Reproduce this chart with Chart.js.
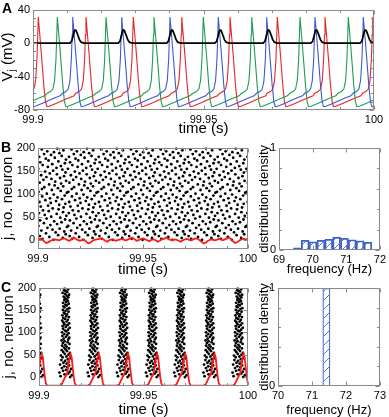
<!DOCTYPE html>
<html>
<head>
<meta charset="utf-8">
<script src="https://cdn.jsdelivr.net/npm/chart.js@4.4.1/dist/chart.umd.min.js"></script>
<style>
  html, body { margin: 0; padding: 0; background: #fff; }
  #fig { position: relative; width: 389px; height: 417px; overflow: hidden; }
  #fig canvas { position: absolute; }
</style>
</head>
<body>
<div id="fig">
  <canvas id="cA" width="389" height="138" style="left:0;top:0"></canvas>
  <canvas id="cB" width="262" height="139" style="left:0;top:138px"></canvas>
  <canvas id="hB" width="133" height="139" style="left:256px;top:138px"></canvas>
  <canvas id="cC" width="262" height="139" style="left:0;top:278px"></canvas>
  <canvas id="hC" width="133" height="139" style="left:256px;top:278px"></canvas>
</div>
<script>
// all times are ms after 99.9 s

// A: spike peaks of the three plotted neurons, and bumps of the black trace
const redSpikes = [-12.44, 1.55, 15.54, 29.41, 43.61, 57.77, 71.64, 85.63, 99.62];
const greenSpikes = [-7.07, 7.13, 21.41, 35.48, 49.94, 64.13, 78.3, 92.46];
const blueSpikes = [-2.55, 11.64, 26.01, 40.18, 54.34, 68.53, 82.7, 96.86];
const blackBumps = [12.32, 26.48, 40.67, 54.84, 69.0, 83.0, 97.4];
// waveforms: [ms from peak, mV]
const spikeShape = [[-3, -60], [-2, -58], [-1.3, -55], [-0.8, -45], [-0.4, -20], [-0.15, 10],
  [0, 31], [0.4, 12], [1.0, -18], [1.6, -50], [2.1, -70], [2.5, -76], [3.2, -75.5],
  [5, -72.5], [7, -69], [9, -65.5], [10.5, -63]];
const bumpShape = [[-1.5, 0], [-1, 2], [-0.6, 8], [-0.2, 14.5], [0, 15.5], [0.3, 15],
  [0.8, 10], [1.3, 4], [1.8, 1], [2.6, 0]];

// B: first spike of neuron j = 0,2,4,... and firing period
const periodB = 14.16;
const phaseB = [
  7.3, 2.1, 11.8, 5.4, 0.9, 9.6, 13.2, 3.8,
  8.4, 12.5, 1.6, 6.9, 10.3, 4.5, 13.8, 0.2,
  5.9, 9.1, 2.8, 11.2, 7.7, 1.0, 12.9, 4.1,
  10.6, 6.3, 13.5, 3.2, 8.9, 0.5, 11.9, 5.1,
  2.4, 9.8, 7.0, 12.2, 1.3, 4.8, 10.1, 13.0,
  6.1, 0.7, 8.6, 3.5, 11.4, 5.7, 9.3, 2.0,
  12.7, 7.5, 4.2, 13.7, 0.3, 10.8, 6.6, 1.9,
  9.5, 3.0, 12.0, 7.9, 5.3, 11.0, 0.8, 8.2,
  13.4, 2.6, 6.4, 10.5, 4.0, 12.4, 1.5, 9.0,
  5.6, 13.1, 3.4, 7.2, 11.6, 0.1, 8.8, 4.7,
  10.9, 2.2, 6.8, 12.8, 1.1, 9.7, 5.0, 13.3,
  3.7, 8.0, 0.6, 11.3, 6.2, 2.9, 10.2, 7.6,
  4.4, 12.1, 1.8, 9.2];
// B: population activity (red), one value per ms
const popB = [
  1, 2, 1, -4, -7, -5, -2, 0, 1, 0,
  -1, 1, 3, 2, -1, -2, 1, 5, 2, -1,
  -2, -1, 0, -4, -8, -6, -2, 0, 1, 2,
  3, 1, -2, -4, -1, 1, 0, -2, -1, 1,
  2, 0, -1, 1, 3, 5, 1, -2, -1, 2,
  3, 1, -1, -3, 0, 1, -1, -4, -2, 1,
  2, 5, 2, 0, -1, 1, 0, -2, -4, -1,
  1, 2, 0, -1, 1, 3, 2, -1, -5, -8,
  -6, -2, 0, 1, -1, 0, 2, 1, -1, 1,
  3, 5, 1, -4, -7, -5, -1, 1, 2, 1,
  2];

// C: peaks of population activity, spike lag of neuron j = 0,2,4,... to the peak
const burstPeaksC = [1.3, 15.1, 28.6, 42.6, 56.5, 70.0, 84.0, 97.9];
const lagC = [
  -0.2, -4.8, 0.6, -2.9, -1.1, -5.3, -0.4, -3.6,
  -2.2, 0.2, -4.1, -1.5, -3.0, -0.7, -5.0, -1.9,
  -3.4, -0.9, -2.6, -4.4, -1.3, 0.1, -3.8, -2.0,
  -4.6, -1.0, -2.8, -0.3, -3.5, -1.7, -4.2, -2.4,
  -0.8, -3.1, -1.9, -4.0, -2.5, -0.5, -3.7, -1.4,
  -2.9, -4.3, -1.1, -3.3, -0.6, -2.2, -3.9, -1.6,
  -3.0, -0.9, -4.1, -2.0, -2.7, -1.2, -3.6, -0.4,
  -2.3, -3.8, -1.5, -2.9, -0.7, -3.4, -1.9, -4.0,
  -1.3, -2.6, -3.5, -0.8, -2.1, -3.9, -1.7, -2.8,
  -3.2, -1.0, -2.4, -3.7, -1.5, -0.6, -2.9, -3.4,
  -1.8, -2.5, -0.9, -3.6, -2.2, -1.3, -3.0, -2.0,
  -2.7, -1.1, -3.3, -1.9, -0.7, -2.6, -3.8, -1.6,
  -2.3, -3.1, -1.2, -2.8];
const popShapeC = [[-5.2, -19], [-4.2, -16], [-3.4, -8], [-2.6, 0], [-2.0, 4], [-1.5, 12],
  [-1.0, 28], [-0.5, 45], [0, 52], [0.5, 45], [1.0, 22], [1.5, 0], [2.0, -14], [2.6, -19]];

// frequency histograms
const binCentersB = [69.547, 69.78, 70.013, 70.246, 70.479, 70.712, 70.945, 71.178, 71.411, 71.644];
const densityB = [0.02, 0.095, 0.08, 0.095, 0.105, 0.125, 0.115, 0.1, 0.09, 0.075];
const binCentersC = [71.425];
const densityC = [1];

// ticks
const timeTicks = [99.9, 99.95, 100];
const timeMinor = [99.91, 99.92, 99.93, 99.94, 99.96, 99.97, 99.98, 99.99];
const vTicks = [-80, -40, 0, 40];
const vMinor = [-70, -60, -50, -30, -20, -10, 10, 20, 30];
const jTicks = [0, 50, 100, 150, 200];
const freqTicksB = [69, 70, 71, 72];
const freqTicksC = [70, 71, 72, 73];
const densTicks = [0, 1];
const densMinor = [0.2, 0.4, 0.6, 0.8];

const FONT = '"Liberation Sans", Arial, Helvetica, sans-serif';
Chart.defaults.font.family = FONT;
Chart.defaults.color = '#000';

const RED = '#e8232a', GREEN = '#1f9c4f', BLUE = '#3b5bcc', HBLUE = '#3f60c8';

function trace(peaks, shape) {
  const pts = [];
  peaks.forEach(p => shape.forEach(([dt, v]) => pts.push({ x: 99.9 + (p + dt) / 1000, y: v })));
  return pts.sort((a, b) => a.x - b.x);
}

const blackTrace = trace(blackBumps, bumpShape).concat([{ x: 99.9, y: 0 }, { x: 100, y: 0 }]).sort((a, b) => a.x - b.x);

const rasterB = [];
phaseB.forEach((ph, i) => {
  for (let t = ph; t <= 100; t += periodB) rasterB.push({ x: 99.9 + t / 1000, y: 2 * i });
});
const rasterC = [];
lagC.forEach((lag, i) => burstPeaksC.forEach(p => {
  const t = p + lag;
  if (t >= 0 && t <= 100) rasterC.push({ x: 99.9 + t / 1000, y: 2 * i });
}));

function hatch(color) {
  const c = document.createElement('canvas');
  c.width = c.height = 9;
  const g = c.getContext('2d');
  g.strokeStyle = color;
  g.lineWidth = 1;
  g.beginPath();
  g.moveTo(0, 9); g.lineTo(9, 0);
  g.moveTo(-1, 1); g.lineTo(1, -1);
  g.moveTo(8, 10); g.lineTo(10, 8);
  g.stroke();
  return g.createPattern(c, 'repeat');
}

function axis(min, max, major, size, title, tsize, tpad) {
  return {
    type: 'linear', min, max, offset: false,
    grid: { display: false, drawTicks: false },
    border: { display: false },
    ticks: { font: { size: 11 }, padding: 3, color: '#000', autoSkip: false, maxRotation: 0,
      callback: v => String(Math.round(v * 100) / 100) },
    afterBuildTicks: s => { s.ticks = major.map(v => ({ value: v })); },
    afterFit: s => { if (s.isHorizontal()) s.height = size; else s.width = size; },
    title: title ? { display: true, text: title, color: '#000', font: { size: tsize, lineHeight: 1 }, padding: tpad }
                 : { display: false }
  };
}

const frame = {
  id: 'frame',
  afterDatasetsDraw(chart, args, o) {
    const { ctx, chartArea: a } = chart;
    const sx = chart.scales.x, sy = chart.scales.y;
    const L = Math.round(a.left) + 0.5, R = Math.round(a.right) - 0.5;
    const T = Math.round(a.top) + 0.5, B = Math.round(a.bottom) - 0.5;
    ctx.save();
    ctx.strokeStyle = '#8a8a8a';
    ctx.lineWidth = 1;
    ctx.strokeRect(L, T, R - L, B - T);
    ctx.beginPath();
    const xt = (vals, len) => vals.forEach(v => {
      const p = Math.round(sx.getPixelForValue(v)) + 0.5;
      ctx.moveTo(p, B); ctx.lineTo(p, B - len); ctx.moveTo(p, T); ctx.lineTo(p, T + len);
    });
    const yt = (vals, len) => vals.forEach(v => {
      const p = Math.round(sy.getPixelForValue(v)) + 0.5;
      ctx.moveTo(L, p); ctx.lineTo(L + len, p); ctx.moveTo(R, p); ctx.lineTo(R - len, p);
    });
    xt(sx.ticks.map(t => t.value), 4);
    yt(sy.ticks.map(t => t.value), 4);
    xt(o.xMinor || [], 2.5);
    yt(o.yMinor || [], 2.5);
    ctx.stroke();
    ctx.fillStyle = '#000';
    if (o.letter) {
      ctx.font = 'bold 14px ' + FONT;
      ctx.textBaseline = 'alphabetic';
      ctx.textAlign = 'left';
      ctx.fillText(o.letter, o.lx, o.ly);
    }
    if (o.vlabel) {
      ctx.translate(8, 57);
      ctx.rotate(-Math.PI / 2);
      ctx.font = '15px ' + FONT;
      const w1 = ctx.measureText('V').width, w3 = ctx.measureText(' (mV)').width;
      ctx.font = '10px ' + FONT;
      const w2 = ctx.measureText('j').width;
      const x0 = -(w1 + w2 + w3) / 2;
      ctx.textBaseline = 'middle';
      ctx.textAlign = 'left';
      ctx.font = '15px ' + FONT; ctx.fillText('V', x0, 0);
      ctx.font = '10px ' + FONT; ctx.fillText('j', x0 + w1, 4);
      ctx.font = '15px ' + FONT; ctx.fillText(' (mV)', x0 + w1 + w2, 0);
    }
    ctx.restore();
  }
};

function baseOpts(pad, scales, frameOpts) {
  return {
    responsive: false, animation: false, events: [],
    layout: { padding: pad },
    elements: { line: { tension: 0 }, point: { radius: 0 } },
    scales,
    plugins: { legend: { display: false }, tooltip: { enabled: false }, frame: frameOpts }
  };
}

// A
new Chart(document.getElementById('cA'), {
  type: 'line',
  data: { datasets: [
    { data: blackTrace, borderColor: '#000', borderWidth: 1.8 },
    { data: trace(blueSpikes, spikeShape), borderColor: BLUE, borderWidth: 1.1 },
    { data: trace(greenSpikes, spikeShape), borderColor: GREEN, borderWidth: 1.1 },
    { data: trace(redSpikes, spikeShape), borderColor: RED, borderWidth: 1.1 }
  ] },
  options: baseOpts({ left: 0, top: 9, right: 15, bottom: 0 }, {
    x: axis(99.9, 100, timeTicks, 28, 'time (s)', 15, { top: 0, bottom: 1.5 }),
    y: axis(-80, 40, vTicks, 33)
  }, { xMinor: timeMinor, yMinor: vMinor, letter: 'A', lx: 2, ly: 13, vlabel: true }),
  plugins: [frame]
});

// B raster
new Chart(document.getElementById('cB'), {
  type: 'scatter',
  data: { datasets: [
    { type: 'line', data: popB.map((v, i) => ({ x: 99.9 + i / 1000, y: v })), borderColor: '#ff1a1a', borderWidth: 1.8, pointRadius: 0 },
    { data: rasterB, pointRadius: 1.4, backgroundColor: '#000', borderWidth: 0 }
  ] },
  options: baseOpts({ left: 0, top: 9, right: 14, bottom: 0 }, {
    x: axis(99.9, 100, timeTicks, 28, 'time (s)', 15, { top: 0, bottom: 0 }),
    y: axis(-20, 200, jTicks, 38, 'j, no. neuron', 15, { top: 0.5, bottom: 0 })
  }, { xMinor: timeMinor, letter: 'B', lx: 1, ly: 14 }),
  plugins: [frame]
});

// B histogram
new Chart(document.getElementById('hB'), {
  type: 'bar',
  data: { datasets: [
    { type: 'line', data: [{ x: 69, y: 0 }, { x: 71.76, y: 0 }], borderColor: HBLUE, borderWidth: 1.5, pointRadius: 0 },
    { data: binCentersB.map((c, i) => ({ x: c, y: densityB[i] })), backgroundColor: hatch('#5a78d2'),
      borderColor: HBLUE, borderWidth: 1.2, barPercentage: 1, categoryPercentage: 1 }
  ] },
  options: baseOpts({ left: 0, top: 7, right: 6, bottom: 0 }, {
    x: axis(69, 72, freqTicksB, 27, 'frequency (Hz)', 13, { top: 0, bottom: 1.5 }),
    y: axis(0, 1, densTicks, 23, 'distribution density', 13, { top: 2.2, bottom: 0 })
  }, { yMinor: densMinor }),
  plugins: [frame]
});

// C raster
new Chart(document.getElementById('cC'), {
  type: 'scatter',
  data: { datasets: [
    { type: 'line', data: trace(burstPeaksC, popShapeC), borderColor: '#ff1a1a', borderWidth: 1.8, pointRadius: 0 },
    { data: rasterC, pointRadius: 1.4, backgroundColor: '#000', borderWidth: 0 }
  ] },
  options: baseOpts({ left: 0, top: 9, right: 14, bottom: 0 }, {
    x: axis(99.9, 100, timeTicks, 31, 'time (s)', 15, { top: 0, bottom: 0 }),
    y: axis(-20, 200, jTicks, 39, 'j, no. neuron', 15, { top: 1.5, bottom: 0 })
  }, { xMinor: timeMinor, letter: 'C', lx: 1, ly: 14 }),
  plugins: [frame]
});

// C histogram
new Chart(document.getElementById('hC'), {
  type: 'bar',
  data: { datasets: [
    { type: 'line', data: [{ x: 70, y: 0 }, { x: 72, y: 0 }], borderColor: HBLUE, borderWidth: 1.5, pointRadius: 0 },
    { data: binCentersC.map((c, i) => ({ x: c, y: densityC[i] })), backgroundColor: hatch('#5a78d2'),
      borderColor: HBLUE, borderWidth: 1.2, barPercentage: 0.23, categoryPercentage: 1 }
  ] },
  options: baseOpts({ left: 0, top: 10, right: 5, bottom: 0 }, {
    x: axis(70, 73, freqTicksC, 31, 'frequency (Hz)', 13, { top: 0, bottom: 0 }),
    y: axis(0, 1, densTicks, 22, 'distribution density', 13, { top: 1.5, bottom: 0 })
  }, { yMinor: densMinor }),
  plugins: [frame]
});
</script>
</body>
</html>
